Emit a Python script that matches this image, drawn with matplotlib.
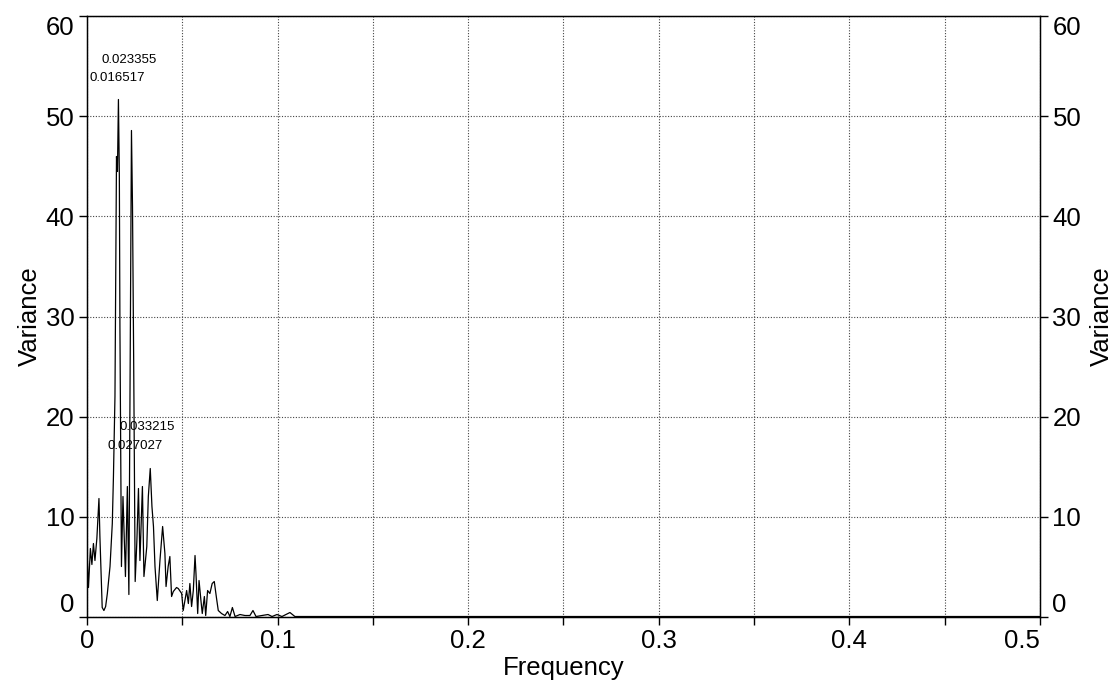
import matplotlib
matplotlib.use("Agg")
import matplotlib.pyplot as plt
from matplotlib.ticker import MultipleLocator, FuncFormatter

plt.rcParams['font.family'] = ['Liberation Sans', 'DejaVu Sans']

# Spectrum (frequency, variance)
freq = [0.0000, 0.0008, 0.0018, 0.0026, 0.0034, 0.0042, 0.0052, 0.0063, 0.0068,
        0.0080, 0.0089, 0.0098, 0.0107, 0.0121, 0.0133, 0.0139, 0.0147, 0.0155,
        0.0160, 0.016517, 0.0170, 0.0173, 0.0181, 0.0189, 0.0202, 0.0212, 0.0220,
        0.023355, 0.0239, 0.0245, 0.0253, 0.0262, 0.027027, 0.0278, 0.0291, 0.0299,
        0.0314, 0.0322, 0.033215, 0.0341, 0.0349, 0.0357, 0.0369, 0.0383, 0.0397,
        0.0409, 0.0415, 0.0426, 0.0435, 0.0444, 0.0453, 0.0470, 0.0479, 0.0497,
        0.0505, 0.0523, 0.0532, 0.0540, 0.0549, 0.0558, 0.0567, 0.0572, 0.0581,
        0.0588, 0.0598, 0.0605, 0.0616, 0.0623, 0.0633, 0.0645, 0.0657, 0.0668,
        0.0680, 0.0689, 0.0706, 0.0724, 0.0738, 0.0750, 0.0763, 0.0777, 0.0803,
        0.0829, 0.0855, 0.0871, 0.0887, 0.0918, 0.0950, 0.0971, 0.0997, 0.1023,
        0.1065, 0.1091, 0.2, 0.3, 0.4, 0.5]
variance = [6.8, 2.9, 6.8, 5.2, 7.3, 5.6, 7.8, 11.8, 8.0,
            0.9, 0.6, 1.0, 2.3, 5.0, 9.3, 14.0, 22.0, 46.0,
            44.5, 51.7, 44.0, 29.0, 5.0, 12.0, 4.0, 13.0, 2.2,
            48.6, 41.0, 26.0, 3.5, 7.6, 12.8, 5.6, 13.0, 4.0,
            7.0, 12.0, 14.8, 11.0, 9.0, 5.0, 1.6, 5.6, 9.0,
            6.3, 3.0, 5.0, 6.0, 2.0, 2.5, 2.9, 2.8, 2.3,
            0.6, 2.6, 1.3, 3.3, 1.0, 2.6, 6.1, 4.3, 0.3,
            3.6, 1.6, 0.3, 2.0, 0.1, 2.6, 2.3, 3.3, 3.5,
            1.8, 0.6, 0.3, 0.1, 0.5, 0.0, 0.9, 0.0, 0.2,
            0.1, 0.1, 0.6, 0.0, 0.1, 0.2, 0.0, 0.2, 0.0,
            0.4, 0.0, 0.0, 0.0, 0.0, 0.0]

peak_labels = ["0.023355", "0.016517", "0.033215", "0.027027"]
peak_label_pos = [(0.0077, 55.65), (0.0016, 53.85), (0.0173, 18.95), (0.0110, 17.05)]

FS = 18.5

fig = plt.figure(figsize=(11.19, 6.9), dpi=100)
ax = fig.add_axes([0.0777, 0.1065, 0.8517, 0.8696])
ax.plot(freq, variance, color='black', lw=0.9)

ax.set_xlim(0, 0.5)
ax.set_ylim(0, 60)
ax.xaxis.set_major_locator(MultipleLocator(0.05))
ax.xaxis.set_major_formatter(FuncFormatter(
    lambda v, p: ('0' if abs(v) < 1e-9 else f'{v:g}') if round(v * 20) % 2 == 0 else ''))
ax.yaxis.set_major_locator(MultipleLocator(10))

ax.grid(True, linestyle=(0, (1, 1.5)), color='#444444', lw=0.8)
for s in ax.spines.values():
    s.set_linewidth(1.0)
    s.set_color('black')

ax.tick_params(direction='out', length=6, width=1, labelsize=FS, pad=3)

ax2 = ax.twinx()
ax2.set_ylim(0, 60)
ax2.yaxis.set_major_locator(MultipleLocator(10))
ax2.tick_params(direction='out', length=6, width=1, labelsize=FS, pad=3)
ax2.set_ylabel('Variance', fontsize=FS, labelpad=6)

ax.set_xlabel('Frequency', fontsize=FS, labelpad=2)
ax.set_ylabel('Variance', fontsize=FS, labelpad=3)

fig.canvas.draw()
for a in (ax, ax2):
    for t in a.yaxis.get_major_ticks():
        if abs(t.get_loc()) < 1e-9:
            t.label1.set_va('bottom'); t.label2.set_va('bottom')
        if abs(t.get_loc() - 60) < 1e-9:
            t.label1.set_va('top'); t.label2.set_va('top')
for t in ax.xaxis.get_major_ticks():
    if abs(t.get_loc() - 0.5) < 1e-9:
        t.label1.set_ha('right')

for txt, (x, y) in zip(peak_labels, peak_label_pos):
    ax.text(x, y, txt, fontsize=9.5, ha='left', va='center')

fig.savefig('out.png', dpi=100)
